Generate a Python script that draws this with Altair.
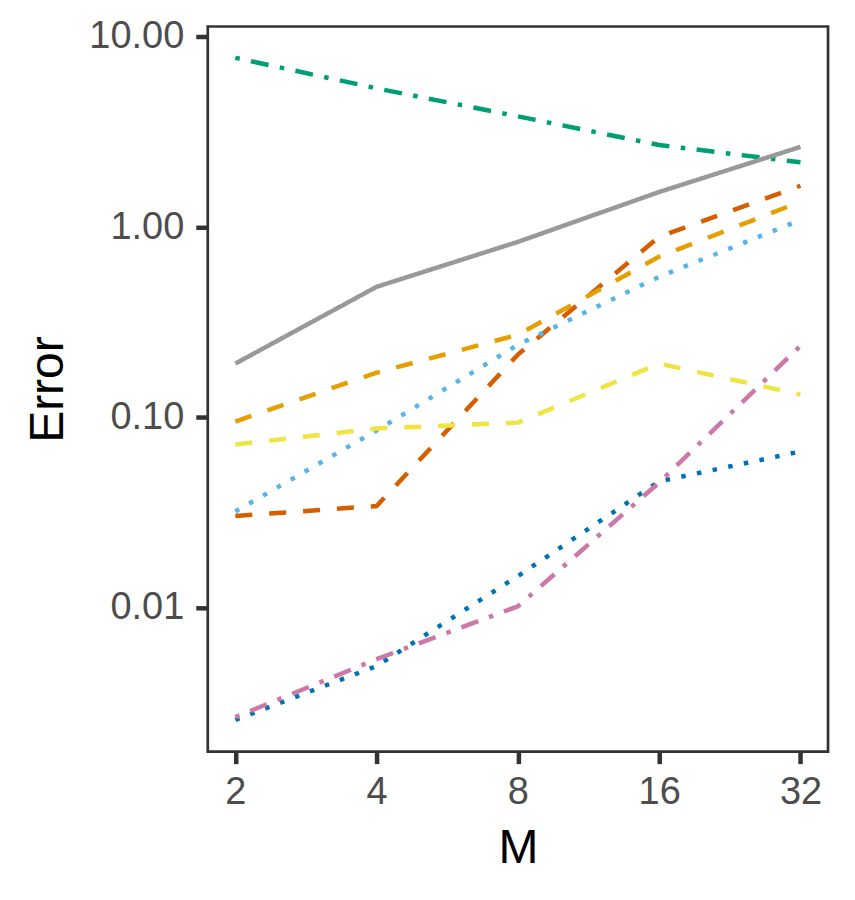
import altair as alt
import pandas as pd

# ---- data ----
M_values = [2, 4, 8, 16, 32]

series_names = ["S1", "S2", "S3", "S4", "S5", "S6", "S7", "S8"]
s_green = [7.75, 5.36, 3.82, 2.70, 2.19]          # dot-dash, green
s_grey = [0.192, 0.486, 0.837, 1.53, 2.64]         # solid, grey
s_vermillion = [0.0304, 0.0343, 0.214, 0.89, 1.65]  # dashed, vermillion
s_orange = [0.0953, 0.172, 0.272, 0.70, 1.36]      # dashed, orange
s_skyblue = [0.0321, 0.0855, 0.241, 0.549, 1.09]   # dotted, sky blue
s_yellow = [0.0722, 0.0876, 0.094, 0.192, 0.132]   # dashed, yellow
s_blue = [0.00258, 0.00495, 0.0147, 0.0462, 0.0663]  # dotted, blue
s_pink = [0.00267, 0.00538, 0.0102, 0.0456, 0.238]   # dot-dash, pink

series_values = [s_green, s_grey, s_vermillion, s_orange,
                 s_skyblue, s_yellow, s_blue, s_pink]
series_colors = ["#009E73", "#999999", "#D55E00", "#E69F00",
                 "#56B4E9", "#F0E442", "#0072B2", "#CC79A7"]
DOTDASH = [4.5, 11.5, 18, 11.5]
SOLID = [1, 0]
DASHED = [17, 17]
DOTTED = [4.5, 11.5]
series_dashes = [DOTDASH, SOLID, DASHED, DASHED, DOTTED, DASHED, DOTTED, DOTDASH]

y_ticks = [0.01, 0.1, 1, 10]

rows = []
for name, vals in zip(series_names, series_values):
    for m, v in zip(M_values, vals):
        rows.append({"series": name, "M": m, "Error": v})
df = pd.DataFrame(rows)

FONT = "Liberation Sans"

chart = (
    alt.Chart(df)
    .mark_line(strokeWidth=4.5, strokeCap="butt", clip=True)
    .encode(
        x=alt.X(
            "M:Q",
            scale=alt.Scale(type="log", base=2, domain=[1.747, 36.63], nice=False, zero=False),
            axis=alt.Axis(
                values=M_values, format="d", title="M",
                labelPadding=10, labelFlush=False,
                titleX=310.5, titleY=110.5, titleAlign="center", titleBaseline="alphabetic",
            ),
        ),
        y=alt.Y(
            "Error:Q",
            scale=alt.Scale(type="log", domain=[0.001758, 11.32], nice=False, zero=False),
            axis=alt.Axis(
                values=y_ticks, format=".2f", title="Error",
                labelPadding=12, labelFlush=False,
                titleAngle=270, titleX=-145.5, titleY=363, titleAlign="center",
                titleBaseline="alphabetic",
            ),
        ),
        color=alt.Color("series:N", scale=alt.Scale(domain=series_names, range=series_colors), legend=None),
        strokeDash=alt.StrokeDash("series:N", scale=alt.Scale(domain=series_names, range=series_dashes), legend=None),
    )
    .properties(
        width=621,
        height=726,
        padding={"left": 200, "top": 18, "right": 19, "bottom": 148},
        autosize=alt.AutoSizeParams(type="none"),
        background="white",
    )
    .configure_view(stroke="#333333", strokeWidth=2.7)
    .configure_axis(
        domain=False,
        grid=False,
        ticks=True,
        tickColor="#333333",
        tickWidth=4.5,
        tickSize=12,
        labelColor="#4D4D4D",
        labelFont=FONT,
        labelFontSize=38,
        titleFont=FONT,
        titleFontSize=48,
        titleFontWeight="normal",
        titleColor="#000000",
    )
)

chart.save("out.html", embed_options={"renderer": "svg", "actions": False})
